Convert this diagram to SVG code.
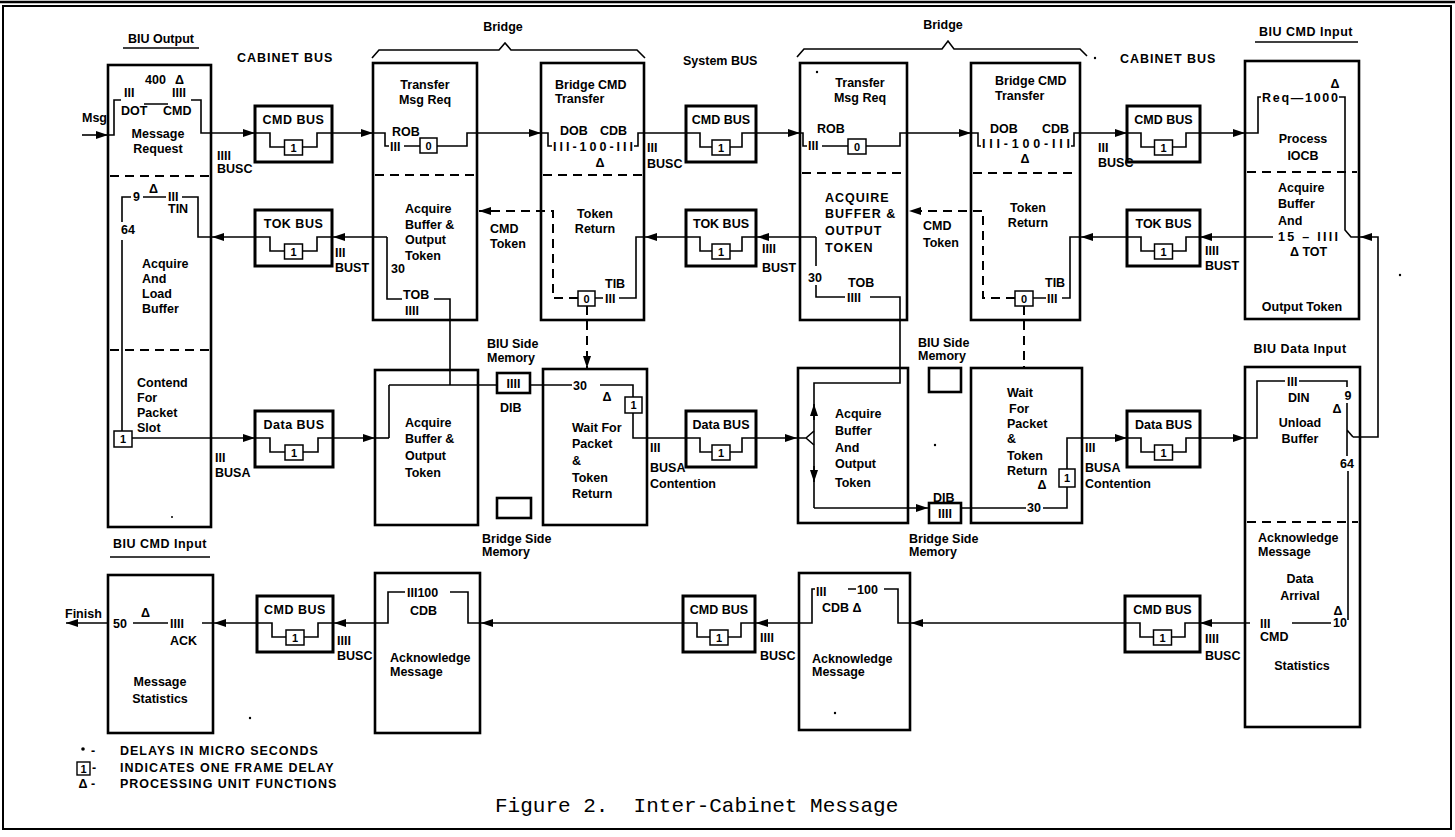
<svg xmlns="http://www.w3.org/2000/svg" width="1455" height="837" viewBox="0 0 1455 837">
<style>
.bx{fill:none;stroke:#000;stroke-width:2.6}
.bus{fill:none;stroke:#000;stroke-width:3}
.sq{fill:#fff;stroke:#000;stroke-width:1.5}
.ln{fill:none;stroke:#000;stroke-width:1.6}
.ds{fill:none;stroke:#000;stroke-width:2;stroke-dasharray:9 6}
.ar{marker-end:url(#a)}
text{font-family:"Liberation Sans",Arial,Helvetica,sans-serif;font-weight:bold;font-size:12.5px;fill:#000}
.c{text-anchor:middle}
.e{text-anchor:end}
.k{letter-spacing:1px}
.k2{letter-spacing:0.5px}
.n{font-size:11px}
.cap{font-family:"Liberation Mono","Courier New",monospace;font-weight:normal;font-size:21px;white-space:pre}
</style>
<defs>
<marker id="a" markerUnits="userSpaceOnUse" markerWidth="12" markerHeight="8" refX="12" refY="4" orient="auto" viewBox="0 0 12 8"><path d="M0,0L12,4L0,8z" fill="#000"/></marker>
</defs>

<g id="frame">
<rect x="3" y="6" width="1448" height="823" fill="none" stroke="#000" stroke-width="2"/>
<line x1="0" y1="2" x2="1455" y2="2" stroke="#000" stroke-width="2.5"/>
</g>

<g id="headings">
<text class="c" x="161" y="43">BIU Output</text>
<line x1="123" y1="48" x2="199" y2="48" stroke="#000" stroke-width="1.5"/>
<text class="k" x="237" y="62">CABINET BUS</text>
<text class="c" x="503" y="31">Bridge</text>
<path class="ln" d="M372,58L379,50H499L505,43L511,50H637L645,58"/>
<text x="683" y="65">System BUS</text>
<text class="c" x="943" y="29">Bridge</text>
<path class="ln" d="M797,57L804,49H942L948,41L954,49H1080L1087,56"/>
<text class="k" x="1120" y="63">CABINET BUS</text>
<text class="c k2" x="1306" y="36">BIU CMD Input</text>
<line x1="1255" y1="42" x2="1358" y2="42" stroke="#000" stroke-width="1.5"/>
<text class="c k2" x="1300" y="353">BIU Data Input</text>
<text class="c k2" x="160" y="548">BIU CMD Input</text>
<line x1="110" y1="557" x2="210" y2="557" stroke="#000" stroke-width="1.5"/>
<text x="82" y="122">Msg</text>
<text x="65" y="618">Finish</text>
<text x="487" y="348">BIU Side</text>
<text x="487" y="362">Memory</text>
<text x="482" y="543">Bridge Side</text>
<text x="482" y="556">Memory</text>
<text x="918" y="347">BIU Side</text>
<text x="918" y="360">Memory</text>
<text x="909" y="543">Bridge Side</text>
<text x="909" y="556">Memory</text>
</g>

<g id="bus-labels">
<text x="217" y="160">IIII</text><text x="217" y="173">BUSC</text>
<text x="335" y="257">III</text><text x="335" y="272">BUST</text>
<text x="215" y="462">III</text><text x="215" y="477">BUSA</text>
<text x="337" y="645">IIII</text><text x="337" y="660">BUSC</text>
<text x="647" y="152">III</text><text x="647" y="168">BUSC</text>
<text x="762" y="253">IIII</text><text x="762" y="272">BUST</text>
<text x="650" y="452">III</text><text x="650" y="472">BUSA</text><text x="650" y="488">Contention</text>
<text x="760" y="642">IIII</text><text x="760" y="660">BUSC</text>
<text x="1098" y="152">III</text><text x="1098" y="167">BUSC</text>
<text x="1205" y="255">IIII</text><text x="1205" y="270">BUST</text>
<text x="1085" y="452">III</text><text x="1085" y="472">BUSA</text><text x="1085" y="488">Contention</text>
<text x="1205" y="643">IIII</text><text x="1205" y="660">BUSC</text>
</g>

<g id="biu-output">
<rect class="bx" x="108" y="65" width="103" height="462"/>
<path class="ds" d="M110,176H209M110,350H209"/>
<text x="145" y="84">400</text><text x="175" y="84">Δ</text>
<text x="124" y="97">III</text><text x="172" y="97">IIII</text>
<text x="121" y="115">DOT</text><text x="163" y="115">CMD</text>
<text class="c" x="158" y="138">Message</text><text class="c" x="158" y="153">Request</text>
<text x="133" y="201">9</text><text x="149" y="193">Δ</text><text x="168" y="201">III</text>
<text x="168" y="213">TIN</text>
<text x="121" y="234">64</text>
<text x="142" y="268">Acquire</text><text x="142" y="283">And</text><text x="142" y="298">Load</text><text x="142" y="313">Buffer</text>
<text x="137" y="387">Contend</text><text x="137" y="402">For</text><text x="137" y="417">Packet</text><text x="137" y="432">Slot</text>
<rect class="sq" x="114" y="431" width="18" height="16"/><text class="c n" x="123" y="443">1</text>
</g>

<g id="transfer-1">
<rect class="bx" x="373" y="63" width="104" height="257"/>
<path class="ds" d="M375,175H475"/>
<text class="c" x="425" y="89">Transfer</text><text class="c" x="425" y="104">Msg Req</text>
<text x="392" y="136">ROB</text><text x="390" y="151">III</text>
<rect class="sq" x="420" y="138" width="17" height="15"/><text class="c n" x="428.5" y="150">0</text>
<text x="405" y="213">Acquire</text><text x="405" y="229">Buffer &amp;</text><text x="405" y="244">Output</text><text x="405" y="260">Token</text>
<text x="391" y="273">30</text>
<text x="403" y="299">TOB</text><text x="405" y="315">IIII</text>
</g>

<g id="bridge-cmd-1">
<rect class="bx" x="541" y="63" width="103" height="257"/>
<path class="ds" d="M543,175H642"/>
<text x="555" y="89">Bridge CMD</text><text x="555" y="103">Transfer</text>
<text x="560" y="135">DOB</text><text x="600" y="135">CDB</text>
<text x="553" y="151" textLength="80" lengthAdjust="spacing">III-100-III</text>
<text class="c" x="600" y="167">Δ</text>
<text class="c" x="595" y="218">Token</text><text class="c" x="595" y="233">Return</text>
<text x="490" y="233">CMD</text><text x="490" y="248">Token</text>
<text x="605" y="288">TIB</text><text x="605" y="303">III</text>
<rect class="sq" x="578" y="291" width="17" height="15"/><text class="c n" x="586.5" y="303">0</text>
</g>

<g id="transfer-2">
<rect class="bx" x="800" y="63" width="107" height="257"/>
<path class="ds" d="M802,173H905"/>
<text class="c" x="860" y="87">Transfer</text><text class="c" x="860" y="102">Msg Req</text>
<text x="817" y="133">ROB</text><text x="808" y="150">III</text>
<rect class="sq" x="848" y="139" width="18" height="15"/><text class="c n" x="857" y="151">0</text>
<text class="k" x="825" y="202">ACQUIRE</text><text class="k" x="825" y="218">BUFFER &amp;</text><text class="k" x="825" y="235">OUTPUT</text><text class="k" x="825" y="252">TOKEN</text>
<text x="923" y="230">CMD</text><text x="923" y="247">Token</text>
<text class="c" x="815" y="282">30</text>
<text x="848" y="287">TOB</text><text x="847" y="302">IIII</text>
</g>

<g id="bridge-cmd-2">
<rect class="bx" x="971" y="63" width="109" height="257"/>
<path class="ds" d="M973,173H1078"/>
<text x="995" y="85">Bridge CMD</text><text x="995" y="100">Transfer</text>
<text x="990" y="133">DOB</text><text x="1042" y="133">CDB</text>
<text x="982" y="148" textLength="88" lengthAdjust="spacing">III-100-III</text>
<text class="c" x="1025" y="163">Δ</text>
<text class="c" x="1028" y="212">Token</text><text class="c" x="1028" y="227">Return</text>
<text x="1045" y="287">TIB</text><text x="1047" y="303">III</text>
<rect class="sq" x="1015" y="291" width="18" height="15"/><text class="c n" x="1024" y="303">0</text>
</g>

<g id="biu-cmd-input-top">
<rect class="bx" x="1245" y="61" width="114" height="258"/>
<path class="ds" d="M1247,172H1357"/>
<text class="c" x="1335" y="88">Δ</text>
<text x="1262" y="102" textLength="76" lengthAdjust="spacing">Req—1000</text>
<text class="c" x="1303" y="143">Process</text><text class="c" x="1303" y="160">IOCB</text>
<text x="1278" y="192">Acquire</text><text x="1278" y="208">Buffer</text><text x="1278" y="225">And</text>
<text x="1278" y="241" textLength="60" lengthAdjust="spacing">15 – IIII</text>
<text x="1290" y="256">Δ TOT</text>
<text class="c" x="1302" y="311">Output Token</text>
</g>

<g id="acquire-1">
<rect class="bx" x="375" y="370" width="103" height="155"/>
<text x="405" y="427">Acquire</text><text x="405" y="443">Buffer &amp;</text><text x="405" y="460">Output</text><text x="405" y="477">Token</text>
</g>

<g id="wait-1">
<rect class="bx" x="543" y="369" width="104" height="156"/>
<text x="573" y="390">30</text><text class="c" x="607" y="401">Δ</text>
<rect class="sq" x="625" y="397" width="17" height="16"/><text class="c n" x="633.5" y="409">1</text>
<text x="572" y="432">Wait For</text><text x="572" y="448">Packet</text><text x="572" y="465">&amp;</text><text x="572" y="482">Token</text><text x="572" y="498">Return</text>
</g>

<g id="acquire-2">
<rect class="bx" x="798" y="368" width="110" height="155"/>
<text x="835" y="418">Acquire</text><text x="835" y="435">Buffer</text><text x="835" y="452">And</text><text x="835" y="468">Output</text><text x="835" y="487">Token</text>
</g>

<g id="wait-2">
<rect class="bx" x="971" y="368" width="111" height="155"/>
<text x="1007" y="397">Wait</text><text x="1009" y="413">For</text><text x="1007" y="428">Packet</text><text x="1007" y="443">&amp;</text><text x="1007" y="460">Token</text><text x="1007" y="475">Return</text>
<text x="1027" y="512">30</text><text class="c" x="1042" y="489">Δ</text>
<rect class="sq" x="1059" y="469" width="16" height="18"/><text class="c n" x="1067" y="482">1</text>
</g>

<g id="memories">
<rect class="bx" x="497" y="373" width="33" height="20"/><text class="c" x="513.5" y="388">IIII</text>
<text x="500" y="412">DIB</text>
<rect class="bx" x="497" y="498" width="34" height="20"/>
<rect class="bx" x="929" y="368" width="32" height="24"/>
<text x="933" y="502">DIB</text>
<rect class="bx" x="929" y="503" width="32" height="20"/><text class="c" x="945" y="518">IIII</text>
</g>

<g id="biu-data-input">
<rect class="bx" x="1245" y="367" width="115" height="360"/>
<path class="ds" d="M1247,522H1358"/>
<text x="1287" y="386">III</text><text x="1288" y="402">DIN</text>
<text class="c" x="1348" y="400">9</text><text class="c" x="1337" y="413">Δ</text>
<text class="c" x="1300" y="427">Unload</text><text class="c" x="1300" y="443">Buffer</text>
<text class="c" x="1347" y="468">64</text>
<text x="1258" y="542">Acknowledge</text><text x="1258" y="556">Message</text>
<text class="c" x="1300" y="583">Data</text><text class="c" x="1300" y="600">Arrival</text>
<text x="1260" y="628">III</text><text x="1260" y="641">CMD</text>
<text class="c" x="1338" y="615">Δ</text><text class="e" x="1347" y="627">10</text>
<text class="c" x="1302" y="670">Statistics</text>
</g>

<g id="message-statistics">
<rect class="bx" x="108" y="575" width="105" height="158"/>
<text x="113" y="628">50</text><text x="141" y="617">Δ</text>
<text x="170" y="628">IIII</text><text x="170" y="645">ACK</text>
<text class="c" x="160" y="686">Message</text><text class="c" x="160" y="703">Statistics</text>
</g>

<g id="acknowledge-1">
<rect class="bx" x="375" y="573" width="105" height="160"/>
<text x="407" y="597">III100</text><text x="410" y="615">CDB</text>
<text x="390" y="662">Acknowledge</text><text x="390" y="676">Message</text>
</g>

<g id="acknowledge-2">
<rect class="bx" x="799" y="573" width="111" height="157"/>
<text x="816" y="596">III</text><text x="857" y="594">100</text>
<text x="822" y="612">CDB Δ</text>
<text x="812" y="663">Acknowledge</text><text x="812" y="676">Message</text>
</g>

<g id="cmd-bus-l">
<rect class="bus" x="255" y="106" width="77" height="56"/><text class="c k2" x="293.5" y="124">CMD BUS</text>
<path class="ln" d="M255,133H270V147H284.5M302.5,147H317V133H332"/>
<rect class="sq" x="284.5" y="140" width="18" height="15"/><text class="c n" x="293.5" y="152">1</text>
</g>
<g id="tok-bus-l">
<rect class="bus" x="255" y="210" width="77" height="56"/><text class="c k2" x="293.5" y="228">TOK BUS</text>
<path class="ln" d="M255,237H270V251H284.5M302.5,251H317V237H332"/>
<rect class="sq" x="284.5" y="244" width="18" height="15"/><text class="c n" x="293.5" y="256">1</text>
</g>
<g id="data-bus-l">
<rect class="bus" x="255" y="411" width="78" height="56"/><text class="c k2" x="294" y="429">Data BUS</text>
<path class="ln" d="M255,438H270V452H285M303,452H318V438H333"/>
<rect class="sq" x="285" y="445" width="18" height="15"/><text class="c n" x="294" y="457">1</text>
</g>
<g id="cmd-bus-bl">
<rect class="bus" x="257" y="596" width="76" height="56"/><text class="c k2" x="295" y="614">CMD BUS</text>
<path class="ln" d="M257,623H272V637H286M304,637H318V623H333"/>
<rect class="sq" x="286" y="630" width="18" height="15"/><text class="c n" x="295" y="642">1</text>
</g>
<g id="cmd-bus-m">
<rect class="bus" x="686" y="106" width="70" height="56"/><text class="c" x="721" y="124">CMD BUS</text>
<path class="ln" d="M686,133H700V147H712M730,147H742V133H756"/>
<rect class="sq" x="712" y="140" width="18" height="15"/><text class="c n" x="721" y="152">1</text>
</g>
<g id="tok-bus-m">
<rect class="bus" x="686" y="210" width="70" height="56"/><text class="c" x="721" y="228">TOK BUS</text>
<path class="ln" d="M686,237H700V251H712M730,251H742V237H756"/>
<rect class="sq" x="712" y="244" width="18" height="15"/><text class="c n" x="721" y="256">1</text>
</g>
<g id="data-bus-m">
<rect class="bus" x="686" y="411" width="70" height="56"/><text class="c" x="721" y="429">Data BUS</text>
<path class="ln" d="M686,438H700V452H712M730,452H742V438H756"/>
<rect class="sq" x="712" y="445" width="18" height="15"/><text class="c n" x="721" y="457">1</text>
</g>
<g id="cmd-bus-bm">
<rect class="bus" x="683" y="596" width="72" height="56"/><text class="c" x="719" y="614">CMD BUS</text>
<path class="ln" d="M683,623H697V637H710M728,637H741V623H755"/>
<rect class="sq" x="710" y="630" width="18" height="15"/><text class="c n" x="719" y="642">1</text>
</g>
<g id="cmd-bus-r">
<rect class="bus" x="1127" y="106" width="73" height="56"/><text class="c" x="1163.5" y="124">CMD BUS</text>
<path class="ln" d="M1127,133H1141V147H1154.5M1172.5,147H1186V133H1200"/>
<rect class="sq" x="1154.5" y="140" width="18" height="15"/><text class="c n" x="1163.5" y="152">1</text>
</g>
<g id="tok-bus-r">
<rect class="bus" x="1127" y="210" width="73" height="56"/><text class="c" x="1163.5" y="228">TOK BUS</text>
<path class="ln" d="M1127,237H1141V251H1154.5M1172.5,251H1186V237H1200"/>
<rect class="sq" x="1154.5" y="244" width="18" height="15"/><text class="c n" x="1163.5" y="256">1</text>
</g>
<g id="data-bus-r">
<rect class="bus" x="1127" y="411" width="73" height="56"/><text class="c" x="1163.5" y="429">Data BUS</text>
<path class="ln" d="M1127,438H1141V452H1154.5M1172.5,452H1186V438H1200"/>
<rect class="sq" x="1154.5" y="445" width="18" height="15"/><text class="c n" x="1163.5" y="457">1</text>
</g>
<g id="cmd-bus-br">
<rect class="bus" x="1125" y="596" width="75" height="56"/><text class="c" x="1162.5" y="614">CMD BUS</text>
<path class="ln" d="M1125,623H1140V637H1153.5M1171.5,637H1185V623H1200"/>
<rect class="sq" x="1153.5" y="630" width="18" height="15"/><text class="c n" x="1162.5" y="642">1</text>
</g>

<g id="connectors">
<path class="ln ar" d="M82,135H108"/>
<path class="ln" d="M108,135H114V100H121M144,104H168"/>
<path class="ln ar" d="M191,100H201V133H255"/>
<path class="ln ar" d="M332,133H373"/>
<path class="ln" d="M373,133H385V146H389M404,146H420"/>
<path class="ln ar" d="M437,146H467V133H541"/>
<path class="ln" d="M541,133H548V146H552"/>
<path class="ln" d="M634,146H638V133H686"/>
<path class="ln ar" d="M756,133H800"/>
<path class="ln" d="M800,133H803V146H807M822,146H848"/>
<path class="ln ar" d="M866,146H900V133H971"/>
<path class="ln" d="M971,133H978V146H981"/>
<path class="ln ar" d="M1071,146H1074V133H1127"/>
<path class="ln ar" d="M1200,133H1245"/>
<path class="ln" d="M1245,133H1258V97H1261"/>
<path class="ln" d="M1339,97H1345V230L1351,237H1359"/>
<path class="ln ar" d="M1353,437H1378V237H1360"/>
<path class="ln ar" d="M1273,237H1200"/>
<path class="ln ar" d="M1127,237H1081"/>
<path class="ln" d="M1080,237H1070V298H1062M1046,298H1033"/>
<path class="ds ar" d="M1015,298H983V211H909"/>
<path class="ds" d="M1024,306V367"/>
<path class="ln ar" d="M816,237H757"/>
<path class="ln" d="M816,237V266M816,285V297H845M870,297H900V383H814V508"/>
<path class="ln ar" d="M814,508H928"/>
<path class="ln ar" d="M756,438H797"/>
<path class="ln" d="M798,438H806L814,431M806,438L814,445"/>
<path class="ln ar" d="M814,420V404"/>
<path class="ln ar" d="M814,466V482"/>
<path class="ln ar" d="M686,237H645"/>
<path class="ln" d="M644,237H636V298H619M603,298H595"/>
<path class="ds ar" d="M578,298H553V211H479"/>
<path class="ds ar" d="M587,306V368"/>
<path class="ln ar" d="M387,237H333"/>
<path class="ln" d="M387,237V299H402M434,299H450V385M389,385H497M389,385V438"/>
<path class="ln ar" d="M333,438H375"/>
<path class="ln" d="M375,438H389"/>
<path class="ln ar" d="M255,237H212"/>
<path class="ln" d="M211,237H198V197H182M143,197H166M131,197H122V222M122,240V431"/>
<path class="ln ar" d="M132,438H255"/>
<path class="ln" d="M530,385H572M600,385H633V397M633,413V438H686"/>
<path class="ln" d="M961,508H1026M1043,508H1067V487"/>
<path class="ln ar" d="M1067,469V438H1127"/>
<path class="ln ar" d="M1200,438H1245"/>
<path class="ln" d="M1245,438H1257V381H1285M1299,381H1347V387M1347,403V456M1347,430L1353,437M1348,471V620M1292,623H1331"/>
<path class="ln ar" d="M1250,623H1200"/>
<path class="ln ar" d="M1125,623H911"/>
<path class="ln" d="M910,623H898V589H884M848,589H856"/>
<path class="ln ar" d="M815,589H812V623H756"/>
<path class="ln ar" d="M683,623H481"/>
<path class="ln" d="M480,623H468V592H450"/>
<path class="ln ar" d="M405,592H388V623H334"/>
<path class="ln ar" d="M257,623H214"/>
<path class="ln" d="M213,623H202M168,623H133"/>
<path class="ln ar" d="M108,623H66"/>
</g>

<g id="dots" fill="#000">
<circle cx="817" cy="72" r="1.2"/><circle cx="1095" cy="58" r="1.2"/><circle cx="1400" cy="275" r="1.2"/>
<circle cx="935" cy="445" r="1.2"/><circle cx="835" cy="713" r="1.2"/><circle cx="172" cy="517" r="1"/><circle cx="250" cy="718" r="1.2"/>
</g>

<g id="legend">
<circle cx="83" cy="749" r="1.8" fill="#000"/><text x="91" y="755">-</text><text class="k" x="120" y="755">DELAYS IN MICRO SECONDS</text>
<rect x="77" y="762" width="13" height="13" fill="none" stroke="#000" stroke-width="1.4"/><text class="c n" x="83.5" y="773">1</text><text x="92" y="772">-</text><text class="k" x="120" y="772">INDICATES ONE FRAME DELAY</text>
<text class="c" x="83" y="788">Δ</text><text x="91" y="788">-</text><text class="k" x="120" y="788">PROCESSING UNIT FUNCTIONS</text>
</g>

<g id="caption">
<text class="cap" x="495" y="812" xml:space="preserve">Figure 2.  Inter-Cabinet Message</text>
</g>
</svg>
